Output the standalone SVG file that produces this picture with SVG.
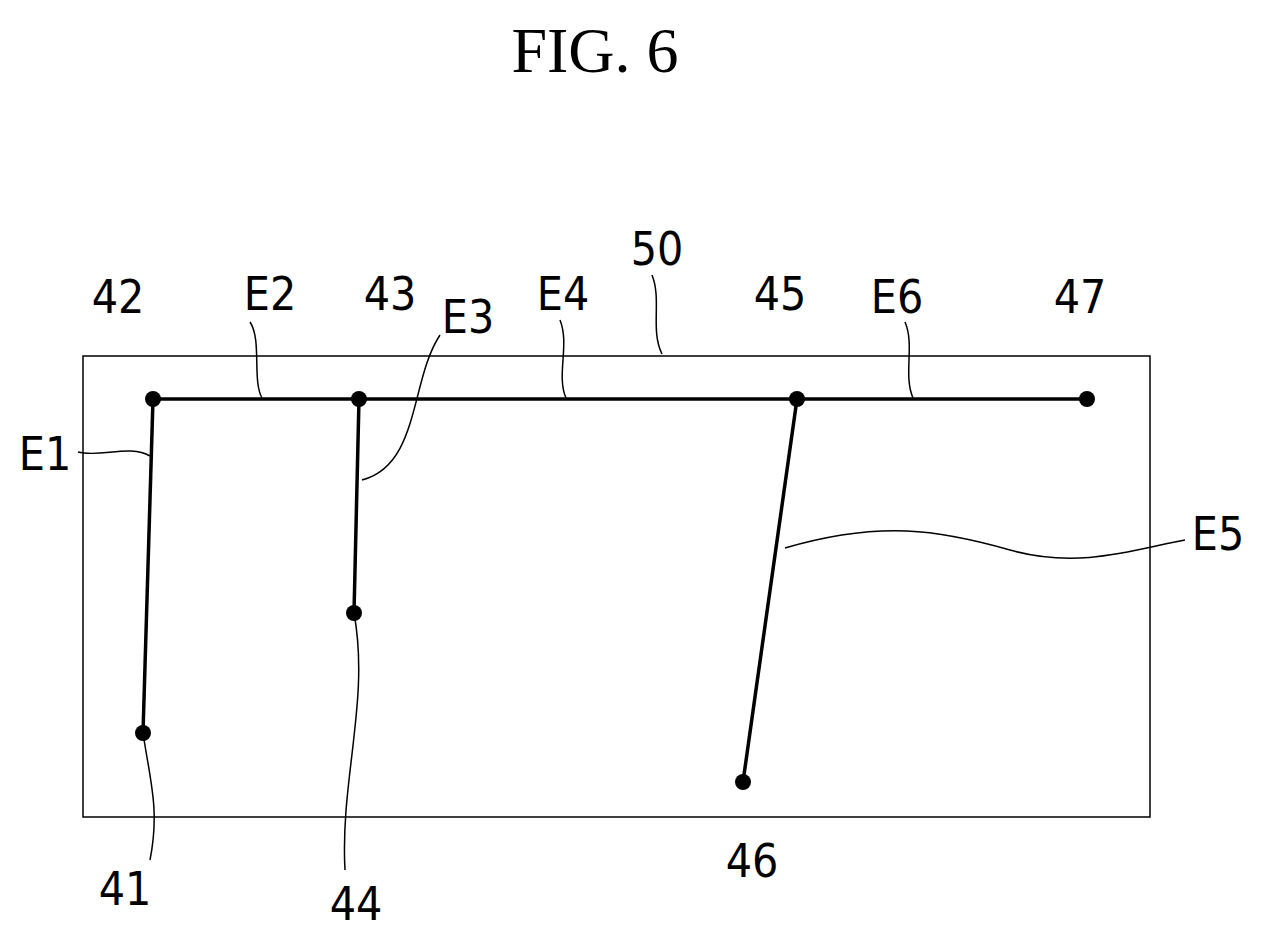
<svg xmlns="http://www.w3.org/2000/svg" width="1269" height="941" viewBox="0 0 1269 941">
<style>
.lbl{font-family:"DejaVu Sans Condensed","Liberation Sans",sans-serif;font-size:46px;fill:#000}
.ld{fill:none;stroke:#000;stroke-width:1.5}
.ed{stroke:#000;stroke-width:3.5}
</style>
<rect width="1269" height="941" fill="#fff"/>
<text x="595" y="72" text-anchor="middle" font-family="Liberation Serif,serif" font-size="64">FIG. 6</text>
<g id="board"><rect x="83" y="356" width="1067" height="461" fill="none" stroke="#000" stroke-width="1.5"/></g>
<g id="connectors">
<line class="ed" x1="153" y1="399" x2="1087" y2="399"/>
<line class="ed" x1="153" y1="399" x2="143" y2="733"/>
<line class="ed" x1="359" y1="399" x2="354" y2="613"/>
<line class="ed" x1="797" y1="399" x2="743" y2="782"/>
<path class="ld" d="M150 456 C130 444 100 458 78 452"/>
<path class="ld" d="M262 398 C252 380 262 340 250 322"/>
<path class="ld" d="M362 480 C420 465 410 380 440 335"/>
<path class="ld" d="M566 398 C556 375 570 345 560 320"/>
<path class="ld" d="M662 354 C650 330 662 300 652 275"/>
<path class="ld" d="M913 398 C903 375 915 345 905 322"/>
<path class="ld" d="M785 548 C880 520 940 530 1010 550 C1080 570 1140 548 1185 540"/>
<path class="ld" d="M143 733 C150 780 160 810 150 860"/>
<path class="ld" d="M354 613 C370 700 340 780 345 870"/>
</g>
<g id="nodes" fill="#000">
<circle cx="153" cy="399" r="8"/><circle cx="359" cy="399" r="8"/>
<circle cx="797" cy="399" r="8"/><circle cx="1087" cy="399" r="8"/>
<circle cx="143" cy="733" r="8"/><circle cx="354" cy="613" r="8"/>
<circle cx="743" cy="782" r="8"/>
</g>
<g id="labels">
<text class="lbl" x="118" y="313" text-anchor="middle">42</text>
<text class="lbl" x="270" y="310" text-anchor="middle">E2</text>
<text class="lbl" x="390" y="310" text-anchor="middle">43</text>
<text class="lbl" x="468" y="333" text-anchor="middle">E3</text>
<text class="lbl" x="563" y="310" text-anchor="middle">E4</text>
<text class="lbl" x="657" y="265" text-anchor="middle">50</text>
<text class="lbl" x="780" y="310" text-anchor="middle">45</text>
<text class="lbl" x="897" y="313" text-anchor="middle">E6</text>
<text class="lbl" x="1080" y="313" text-anchor="middle">47</text>
<text class="lbl" x="45" y="470" text-anchor="middle">E1</text>
<text class="lbl" x="1218" y="550" text-anchor="middle">E5</text>
<text class="lbl" x="125" y="905" text-anchor="middle">41</text>
<text class="lbl" x="356" y="920" text-anchor="middle">44</text>
<text class="lbl" x="752" y="877" text-anchor="middle">46</text>
</g>
</svg>
